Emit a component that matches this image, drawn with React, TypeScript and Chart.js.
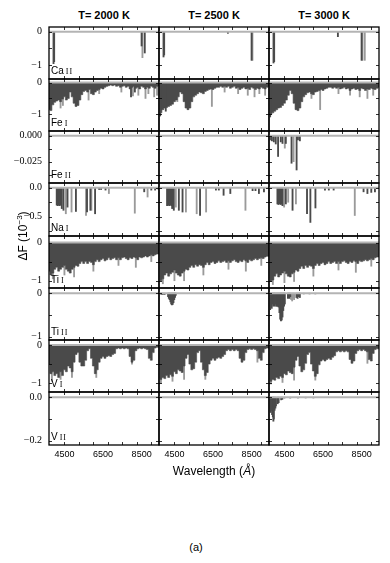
import React, { useEffect, useRef } from "react";
import { Chart, registerables } from "chart.js";

Chart.register(...registerables);

// ---------------- axes / labels ----------------
const X_MIN = 3700;
const X_MAX = 9400;
const X_LABEL_TICKS = [4500, 6500, 8500];
const X_MINOR_TICKS = [4500, 5250, 6000, 6750, 7500, 8250, 9000];

const TEMPERATURES = ["T= 2000 K", "T= 2500 K", "T= 3000 K"];
const SPECIES = ["Ca", "Fe", "Fe", "Na", "Ti", "Ti", "V", "V"];
const IONS = ["II", "I", "II", "I", "I", "II", "I", "II"];

const Y_MIN = [-1.42, -1.52, -0.0455, -0.835, -1.19, -1.08, -1.23, -0.219];
const Y_MAX = [0.14, 0.11, 0.0045, 0.083, 0.17, 0.12, 0.13, 0.024];
const Y_TICK_VALUES = [[0, -1], [0, -1], [0, -0.025], [0, -0.5], [0, -1], [0, -1], [0, -1], [0, -0.2]];
const Y_TICK_TEXT = [["0", "−1"], ["0", "−1"], ["0.000", "−0.025"], ["0.0", "−0.5"], ["0", "−1"], ["0", "−1"], ["0", "−1"], ["0.0", "−0.2"]];
const Y_MINOR_TICKS = [
  [0, -0.5, -1], [0, -0.5, -1], [0, -0.0125, -0.025, -0.0375], [0, -0.25, -0.5, -0.75],
  [0, -0.5, -1], [0, -0.5, -1], [0, -0.5, -1], [0, -0.1, -0.2],
];

// ---------------- wavelength grid for dense absorption envelopes ----------------
const GRID = [
  3700, 3800, 3900, 4000, 4100, 4200, 4300, 4400, 4500, 4600,
  4700, 4800, 4900, 5000, 5100, 5200, 5300, 5400, 5500, 5600,
  5700, 5800, 5900, 6000, 6100, 6200, 6300, 6400, 6500, 6600,
  6700, 6800, 6900, 7000, 7100, 7200, 7300, 7400, 7500, 7600,
  7700, 7800, 7900, 8000, 8100, 8200, 8300, 8400, 8500, 8600,
  8700, 8800, 8900, 9000, 9100, 9200, 9300, 9400,
];

// ---------------- Ca II ----------------
const CA2_2000_DARK = [[3934, -0.96], [3968, -0.9], [8498, -0.43], [8662, -0.64]];
const CA2_2000_LIGHT = [[8542, -0.78]];
const CA2_2500_DARK = [[3934, -0.76], [3968, -0.7], [7270, -0.05], [8498, -0.86]];
const CA2_2500_LIGHT = [[8542, -0.86]];
const CA2_3000_DARK = [[3934, -0.94], [3968, -0.9], [7270, -0.15], [8498, -0.86]];
const CA2_3000_LIGHT = [[8542, -0.86], [8662, -0.86]];

// ---------------- Fe I ----------------
const FE1_2000_ENV = [
  -0.85, -0.88, -0.70, -0.62, -0.58, -0.55, -0.60, -0.52, -0.45, -0.55,
  -0.50, -0.30, -0.45, -0.65, -0.75, -0.72, -0.55, -0.38, -0.28, -0.25,
  -0.30, -0.22, -0.35, -0.38, -0.30, -0.25, -0.22, -0.18, -0.20, -0.15,
  -0.12, -0.10, -0.08, -0.10, -0.08, -0.12, -0.10, -0.15, -0.12, -0.10,
  -0.15, -0.12, -0.20, -0.15, -0.12, -0.18, -0.15, -0.20, -0.12, -0.15,
  -0.20, -0.15, -0.18, -0.12, -0.15, -0.18, -0.12, -0.10,
];
const FE1_2000_LIGHT = [[4300, -0.8], [4420, -0.72], [5750, -0.55], [6300, -0.35], [7450, -0.3], [8050, -0.42], [8330, -0.4], [8700, -0.5], [8850, -0.35], [9150, -0.45], [9300, -0.4]];
const FE1_2000_DARK = [[7950, -0.45], [8150, -0.3]];

const FE1_2500_ENV = [
  -0.98, -0.95, -0.85, -0.80, -0.78, -0.75, -0.72, -0.68, -0.60, -0.55,
  -0.45, -0.30, -0.35, -0.60, -0.80, -0.85, -0.80, -0.60, -0.45, -0.40,
  -0.35, -0.30, -0.32, -0.35, -0.28, -0.25, -0.22, -0.20, -0.22, -0.18,
  -0.15, -0.15, -0.12, -0.15, -0.12, -0.15, -0.12, -0.18, -0.15, -0.12,
  -0.18, -0.15, -0.22, -0.18, -0.15, -0.20, -0.18, -0.22, -0.15, -0.18,
  -0.22, -0.18, -0.20, -0.15, -0.18, -0.20, -0.15, -0.12,
];
const FE1_2500_LIGHT = [[4650, -0.6], [6440, -0.75], [7100, -0.3], [7800, -0.35], [8300, -0.4], [8650, -0.45], [8900, -0.35], [9200, -0.4]];
const FE1_2500_DARK = [[3760, -1.05], [4050, -0.9]];

const FE1_3000_ENV = [
  -1.02, -1.00, -0.95, -0.90, -0.85, -0.80, -0.78, -0.72, -0.65, -0.55,
  -0.40, -0.25, -0.35, -0.65, -0.85, -0.88, -0.80, -0.60, -0.45, -0.38,
  -0.32, -0.30, -0.35, -0.38, -0.30, -0.28, -0.25, -0.22, -0.25, -0.20,
  -0.18, -0.15, -0.15, -0.18, -0.15, -0.18, -0.15, -0.20, -0.18, -0.15,
  -0.20, -0.18, -0.25, -0.20, -0.18, -0.22, -0.20, -0.25, -0.18, -0.20,
  -0.25, -0.20, -0.22, -0.18, -0.20, -0.22, -0.18, -0.15,
];
const FE1_3000_LIGHT = [[5900, -0.5], [6350, -0.85], [7300, -0.35], [7900, -0.4], [8400, -0.45], [8800, -0.5], [9100, -0.4]];
const FE1_3000_DARK = [[3760, -1.08]];

// ---------------- Fe II ----------------
const FE2_3000_DARK = [
  [3750, -0.004], [3850, -0.005], [3950, -0.006], [4050, -0.008], [4171, -0.02], [4310, -0.006],
  [4400, -0.0075], [4572, -0.0075], [4868, -0.0265], [5130, -0.033], [5200, -0.004], [5300, -0.005],
];
const FE2_3000_LIGHT = [[4519, -0.012], [4973, -0.025]];

// ---------------- Na I ----------------
const NA1_2000_DARK = [
  [4100, -0.3], [4150, -0.31], [4200, -0.3], [4250, -0.31], [4300, -0.3], [4362, -0.36], [4450, -0.39],
  [4659, -0.335], [5095, -0.41], [5670, -0.42], [5844, -0.39], [6088, -0.45], [6300, -0.03], [6400, -0.03],
  [6629, -0.04], [8634, -0.07], [9000, -0.04], [9200, -0.04], [9380, -0.03],
];
const NA1_2000_LIGHT = [[4572, -0.45], [4868, -0.42], [5618, -0.48], [5897, -0.39], [6803, -0.1], [8146, -0.44], [8808, -0.16]];

const NA1_2500_DARK = [
  [4118, -0.31], [4170, -0.3], [4230, -0.31], [4290, -0.3], [4345, -0.31], [4380, -0.36], [4467, -0.39],
  [4729, -0.39], [4920, -0.42], [5827, -0.48], [6650, -0.04], [6800, -0.04], [7047, -0.13], [7396, -0.1],
  [8550, -0.05], [8700, -0.05], [8877, -0.1], [9139, -0.07],
];
const NA1_2500_LIGHT = [[4572, -0.335], [5095, -0.42], [5653, -0.45], [6141, -0.42], [8180, -0.39]];

const NA1_3000_DARK = [
  [4136, -0.28], [4190, -0.29], [4250, -0.28], [4310, -0.29], [4362, -0.28], [4397, -0.31], [4572, -0.28],
  [4920, -0.39], [5670, -0.45], [5844, -0.6], [6106, -0.35], [6600, -0.04], [6800, -0.04], [7050, -0.04],
  [8600, -0.07], [8800, -0.1], [9000, -0.08], [9190, -0.07],
];
const NA1_3000_LIGHT = [[4484, -0.335], [4694, -0.25], [5095, -0.28], [8145, -0.48]];

// ---------------- Ti I ----------------
const TI1_2000_ENV = [
  -0.75, -0.85, -0.80, -0.70, -0.65, -0.75, -0.70, -0.65, -0.60, -0.70,
  -0.75, -0.80, -0.70, -0.65, -0.60, -0.62, -0.55, -0.50, -0.55, -0.50,
  -0.55, -0.50, -0.52, -0.58, -0.50, -0.45, -0.50, -0.45, -0.42, -0.48,
  -0.45, -0.40, -0.45, -0.42, -0.40, -0.45, -0.40, -0.45, -0.40, -0.38,
  -0.42, -0.45, -0.40, -0.42, -0.38, -0.40, -0.45, -0.38, -0.40, -0.38,
  -0.35, -0.38, -0.35, -0.32, -0.35, -0.32, -0.30, -0.30,
];
const TI1_2000_LIGHT = [[3900, -0.95], [4500, -0.85], [5000, -0.9], [6000, -0.75], [7300, -0.6], [8200, -0.65], [9000, -0.5]];
const TI1_2500_ENV = [
  -0.90, -1.00, -0.95, -0.85, -0.80, -0.88, -0.82, -0.78, -0.72, -0.80,
  -0.85, -0.88, -0.80, -0.75, -0.70, -0.72, -0.65, -0.60, -0.65, -0.58,
  -0.62, -0.58, -0.60, -0.65, -0.58, -0.52, -0.58, -0.52, -0.50, -0.55,
  -0.52, -0.48, -0.52, -0.50, -0.48, -0.52, -0.48, -0.52, -0.48, -0.45,
  -0.50, -0.52, -0.48, -0.50, -0.45, -0.48, -0.52, -0.45, -0.48, -0.45,
  -0.42, -0.45, -0.42, -0.40, -0.42, -0.38, -0.36, -0.36,
];
const TI1_2500_LIGHT = [[3900, -1.08], [4500, -1.0], [5000, -1.0], [6000, -0.85], [7300, -0.7], [8200, -0.75], [9000, -0.6]];
const TI1_3000_ENV = [
  -0.92, -1.02, -0.98, -0.88, -0.82, -0.90, -0.85, -0.80, -0.75, -0.82,
  -0.88, -0.90, -0.82, -0.78, -0.72, -0.75, -0.68, -0.62, -0.68, -0.60,
  -0.65, -0.60, -0.62, -0.68, -0.60, -0.55, -0.60, -0.55, -0.52, -0.58,
  -0.55, -0.50, -0.55, -0.52, -0.50, -0.55, -0.50, -0.55, -0.50, -0.48,
  -0.52, -0.55, -0.50, -0.52, -0.48, -0.50, -0.55, -0.48, -0.50, -0.48,
  -0.45, -0.48, -0.45, -0.42, -0.45, -0.40, -0.38, -0.38,
];
const TI1_3000_LIGHT = [[3900, -1.1], [4500, -1.05], [5000, -1.02], [6000, -0.88], [7300, -0.72], [8200, -0.78], [9000, -0.62]];

// ---------------- Ti II ----------------
const TI2_2500_DARK = [
  [3820, -0.03], [3900, -0.03], [3990, -0.03], [4170, -0.08], [4210, -0.12], [4250, -0.15], [4290, -0.2],
  [4330, -0.25], [4370, -0.27], [4410, -0.26], [4450, -0.22], [4490, -0.15], [4530, -0.1], [4570, -0.05],
];
const TI2_3000_DARK = [
  [3720, -0.3], [3760, -0.38], [3800, -0.2], [3840, -0.35], [3880, -0.25], [3920, -0.3], [3960, -0.2],
  [4000, -0.3], [4040, -0.25], [4080, -0.3], [4120, -0.3], [4160, -0.3], [4200, -0.32], [4240, -0.45],
  [4280, -0.6], [4320, -0.64], [4360, -0.62], [4400, -0.55], [4440, -0.4], [4480, -0.3], [4520, -0.25],
  [4680, -0.12], [4720, -0.1], [4760, -0.12], [4800, -0.08], [5120, -0.1], [5180, -0.12], [5240, -0.08], [5300, -0.1],
];
const TI2_3000_LIGHT = [[4850, -0.15], [4900, -0.18], [4950, -0.12], [5000, -0.15], [5500, -0.02], [5800, -0.02], [6100, -0.02]];

// ---------------- V I ----------------
const V1_2000_ENV = [
  -0.50, -0.75, -0.70, -0.80, -0.75, -0.85, -0.70, -0.80, -0.65, -0.70,
  -0.55, -0.60, -0.70, -0.45, -0.25, -0.20, -0.45, -0.55, -0.55, -0.40,
  -0.15, -0.10, -0.35, -0.55, -0.75, -0.65, -0.45, -0.35, -0.30, -0.35,
  -0.30, -0.28, -0.30, -0.25, -0.22, -0.10, -0.08, -0.10, -0.08, -0.10,
  -0.08, -0.10, -0.30, -0.45, -0.40, -0.15, -0.10, -0.08, -0.10, -0.08,
  -0.10, -0.12, -0.35, -0.40, -0.20, -0.08, -0.06, -0.06,
];
const V1_2000_LIGHT = [[3850, -0.95], [4300, -0.9], [4890, -0.85], [6150, -0.85], [8000, -0.5]];
const V1_2500_ENV = [
  -0.85, -0.90, -0.85, -0.88, -0.80, -0.85, -0.78, -0.82, -0.70, -0.75,
  -0.65, -0.68, -0.72, -0.55, -0.35, -0.25, -0.50, -0.65, -0.62, -0.45,
  -0.20, -0.15, -0.45, -0.65, -0.80, -0.72, -0.50, -0.40, -0.35, -0.40,
  -0.35, -0.32, -0.35, -0.30, -0.25, -0.15, -0.12, -0.15, -0.12, -0.15,
  -0.12, -0.15, -0.35, -0.45, -0.40, -0.20, -0.12, -0.10, -0.12, -0.10,
  -0.12, -0.15, -0.35, -0.40, -0.20, -0.10, -0.08, -0.08,
];
const V1_2500_LIGHT = [[3800, -1.0], [4400, -0.95], [5000, -0.9], [6100, -0.9], [8800, -0.45]];
const V1_3000_ENV = [
  -0.88, -0.95, -0.90, -0.92, -0.85, -0.88, -0.82, -0.85, -0.75, -0.78,
  -0.68, -0.72, -0.75, -0.58, -0.40, -0.30, -0.55, -0.70, -0.65, -0.48,
  -0.25, -0.20, -0.50, -0.68, -0.82, -0.75, -0.52, -0.42, -0.38, -0.42,
  -0.38, -0.35, -0.38, -0.32, -0.28, -0.18, -0.15, -0.18, -0.15, -0.18,
  -0.15, -0.18, -0.38, -0.48, -0.42, -0.22, -0.15, -0.12, -0.15, -0.12,
  -0.15, -0.18, -0.38, -0.42, -0.22, -0.12, -0.10, -0.10,
];
const V1_3000_LIGHT = [[3800, -1.02], [4400, -0.98], [5000, -0.92], [6100, -0.92], [8800, -0.48]];

// ---------------- V II ----------------
const V2_3000_DARK = [
  [3740, -0.05], [3780, -0.07], [3820, -0.06], [3860, -0.08], [3900, -0.09], [3927, -0.11], [3950, -0.1],
  [3990, -0.06], [4030, -0.05], [4060, -0.04], [4150, -0.03], [4200, -0.025], [4330, -0.012], [4390, -0.01],
];
const V2_3000_LIGHT = [[4500, -0.005], [4800, -0.005], [5200, -0.004], [5600, -0.004], [6000, -0.004]];

type Pair = number[];
type PanelSpec = { env?: number[]; dark?: Pair[]; light?: Pair[] };

const PANELS: PanelSpec[][] = [
  [{ dark: CA2_2000_DARK, light: CA2_2000_LIGHT }, { dark: CA2_2500_DARK, light: CA2_2500_LIGHT }, { dark: CA2_3000_DARK, light: CA2_3000_LIGHT }],
  [{ env: FE1_2000_ENV, dark: FE1_2000_DARK, light: FE1_2000_LIGHT }, { env: FE1_2500_ENV, dark: FE1_2500_DARK, light: FE1_2500_LIGHT }, { env: FE1_3000_ENV, dark: FE1_3000_DARK, light: FE1_3000_LIGHT }],
  [{}, {}, { dark: FE2_3000_DARK, light: FE2_3000_LIGHT }],
  [{ dark: NA1_2000_DARK, light: NA1_2000_LIGHT }, { dark: NA1_2500_DARK, light: NA1_2500_LIGHT }, { dark: NA1_3000_DARK, light: NA1_3000_LIGHT }],
  [{ env: TI1_2000_ENV, light: TI1_2000_LIGHT }, { env: TI1_2500_ENV, light: TI1_2500_LIGHT }, { env: TI1_3000_ENV, light: TI1_3000_LIGHT }],
  [{}, { dark: TI2_2500_DARK }, { dark: TI2_3000_DARK, light: TI2_3000_LIGHT }],
  [{ env: V1_2000_ENV, light: V1_2000_LIGHT }, { env: V1_2500_ENV, light: V1_2500_LIGHT }, { env: V1_3000_ENV, light: V1_3000_LIGHT }],
  [{}, {}, { dark: V2_3000_DARK, light: V2_3000_LIGHT }],
];

// ---------------- layout ----------------
const PANEL_LEFT = [49, 159, 269];
const PW = 110;
const ROW_BOUNDS = [27, 79, 131, 183, 236, 288, 340, 392, 445];
const AXW = 45;
const AXH = 22;
const DARK = "#4a4a4a";
const LIGHT = "#9a9a9a";
const ZERO = "#b4b4b4";

const frameTicks = {
  id: "frameTicks",
  afterDatasetsDraw(chart: any, _args: any, opts: any) {
    const { ctx, chartArea } = chart;
    const { left, right, top, bottom } = chartArea;
    const x = chart.scales.x;
    const y = chart.scales.y;
    ctx.save();
    ctx.strokeStyle = "#000";
    ctx.lineWidth = 0.8;
    ctx.beginPath();
    for (const v of X_MINOR_TICKS) {
      const px = Math.round(x.getPixelForValue(v)) + 0.5;
      ctx.moveTo(px, bottom);
      ctx.lineTo(px, bottom - 3);
      ctx.moveTo(px, top);
      ctx.lineTo(px, top + 3);
    }
    for (const v of opts.yTicks || []) {
      const py = Math.round(y.getPixelForValue(v)) + 0.5;
      ctx.moveTo(left, py);
      ctx.lineTo(left + 3, py);
      ctx.moveTo(right, py);
      ctx.lineTo(right - 3, py);
    }
    ctx.stroke();
    ctx.lineWidth = 1.3;
    ctx.strokeRect(left, top, right - left, bottom - top);
    ctx.restore();
  },
};

function Panel({ r, c }: { r: number; c: number }) {
  const ref = useRef<HTMLCanvasElement>(null);
  const top = ROW_BOUNDS[r];
  const h = ROW_BOUNDS[r + 1] - ROW_BOUNDS[r];
  const showY = c === 0;
  const showX = r === 7;
  const canvasLeft = PANEL_LEFT[c] - (showY ? AXW : 1);
  const canvasTop = top - 1;
  const width = PW + (showY ? AXW : 1) + 1;
  const height = h + 1 + (showX ? AXH : 1);

  useEffect(() => {
    const spec = PANELS[r][c];
    const datasets: any[] = [];
    datasets.push({
      type: "line",
      data: [{ x: X_MIN, y: 0 }, { x: X_MAX, y: 0 }],
      borderColor: ZERO,
      borderWidth: 2,
      pointRadius: 0,
      order: 0,
    });
    if (spec.dark) {
      datasets.push({
        type: "bar",
        data: spec.dark.map((p) => ({ x: p[0], y: p[1] })),
        backgroundColor: DARK,
        barThickness: 1.2,
        grouped: false,
        order: 1,
      });
    }
    if (spec.env) {
      datasets.push({
        type: "line",
        data: GRID.map((g, i) => ({ x: g, y: spec.env![i] })),
        borderColor: DARK,
        backgroundColor: DARK,
        borderWidth: 0.6,
        pointRadius: 0,
        stepped: "middle",
        fill: "origin",
        order: 2,
      });
    }
    if (spec.light) {
      datasets.push({
        type: "bar",
        data: spec.light.map((p) => ({ x: p[0], y: p[1] })),
        backgroundColor: LIGHT,
        barThickness: 1.2,
        grouped: false,
        order: 3,
      });
    }
    const chart = new Chart(ref.current!, {
      type: "bar",
      data: { datasets },
      plugins: [frameTicks],
      options: {
        responsive: false,
        animation: false,
        events: [],
        layout: {
          padding: { left: showY ? 0 : 1, right: 1, top: 1, bottom: showX ? 0 : 1 },
        },
        plugins: {
          legend: { display: false },
          tooltip: { enabled: false },
          frameTicks: { yTicks: Y_MINOR_TICKS[r] },
        } as any,
        scales: {
          x: {
            type: "linear",
            min: X_MIN,
            max: X_MAX,
            offset: false,
            display: showX,
            grid: { display: false, drawTicks: false },
            border: { display: false },
            afterBuildTicks: (s: any) => {
              s.ticks = X_LABEL_TICKS.map((v) => ({ value: v }));
            },
            afterFit: (s: any) => {
              if (showX) s.height = AXH;
              s.paddingLeft = 0;
              s.paddingRight = 0;
            },
            ticks: {
              color: "#000",
              padding: 4,
              maxRotation: 0,
              autoSkip: false,
              font: { family: "'Liberation Sans', Arial, sans-serif", size: 9 },
              callback: (v: any) => String(v),
            },
          },
          y: {
            type: "linear",
            min: Y_MIN[r],
            max: Y_MAX[r],
            display: showY,
            grid: { display: false, drawTicks: false },
            border: { display: false },
            afterBuildTicks: (s: any) => {
              s.ticks = Y_TICK_VALUES[r].map((v) => ({ value: v }));
            },
            afterFit: (s: any) => {
              if (showY) s.width = AXW;
              s.paddingTop = 0;
              s.paddingBottom = 0;
            },
            ticks: {
              color: "#000",
              padding: 7,
              autoSkip: false,
              font: { family: "'Liberation Serif', 'DejaVu Serif', serif", size: 10 },
              callback: (_v: any, i: number) => Y_TICK_TEXT[r][i],
            },
          },
        },
      } as any,
    });
    return () => chart.destroy();
  }, [r, c]);

  return (
    <canvas
      ref={ref}
      width={width}
      height={height}
      style={{ position: "absolute", left: canvasLeft, top: canvasTop, width, height }}
    />
  );
}

export default function App() {
  const cells: any[] = [];
  for (let r = 0; r < 8; r++) {
    for (let c = 0; c < 3; c++) {
      cells.push(<Panel key={`${r}-${c}`} r={r} c={c} />);
    }
  }
  return (
    <div
      style={{
        position: "absolute",
        left: 0,
        top: 0,
        width: 390,
        height: 563,
        background: "#fff",
        fontFamily: "'Liberation Sans', Arial, sans-serif",
        color: "#000",
      }}
    >
      {TEMPERATURES.map((t, i) => (
        <div
          key={t}
          style={{
            position: "absolute",
            left: PANEL_LEFT[i],
            width: PW,
            top: 9,
            lineHeight: "13px",
            textAlign: "center",
            fontWeight: "bold",
            fontSize: 11,
          }}
        >
          {t}
        </div>
      ))}
      {cells}
      {SPECIES.map((s, r) => (
        <div
          key={`lab-${r}`}
          style={{
            position: "absolute",
            left: PANEL_LEFT[0] + 2,
            top: ROW_BOUNDS[r + 1] - 14,
            lineHeight: "12px",
            fontSize: 10,
            whiteSpace: "nowrap",
          }}
        >
          {s}
          <span
            style={{
              fontFamily: "'Liberation Serif', 'DejaVu Serif', serif",
              fontSize: 8,
              marginLeft: 2,
              letterSpacing: 1,
            }}
          >
            {IONS[r]}
          </span>
        </div>
      ))}
      <div
        style={{
          position: "absolute",
          left: 20 - 50,
          top: 236 - 8,
          width: 100,
          height: 16,
          lineHeight: "16px",
          textAlign: "center",
          fontSize: 12,
          transform: "rotate(-90deg)",
          whiteSpace: "nowrap",
        }}
      >
        ΔF (10<sup style={{ fontSize: 8 }}>−3</sup>)
      </div>
      <div
        style={{
          position: "absolute",
          left: 114,
          width: 200,
          top: 464,
          lineHeight: "15px",
          textAlign: "center",
          fontSize: 12,
          whiteSpace: "nowrap",
        }}
      >
        Wavelength (<span style={{ fontStyle: "italic" }}>Å</span>)
      </div>
      <div
        style={{
          position: "absolute",
          left: 146,
          width: 100,
          top: 540,
          lineHeight: "14px",
          textAlign: "center",
          fontSize: 11,
        }}
      >
        (a)
      </div>
    </div>
  );
}
